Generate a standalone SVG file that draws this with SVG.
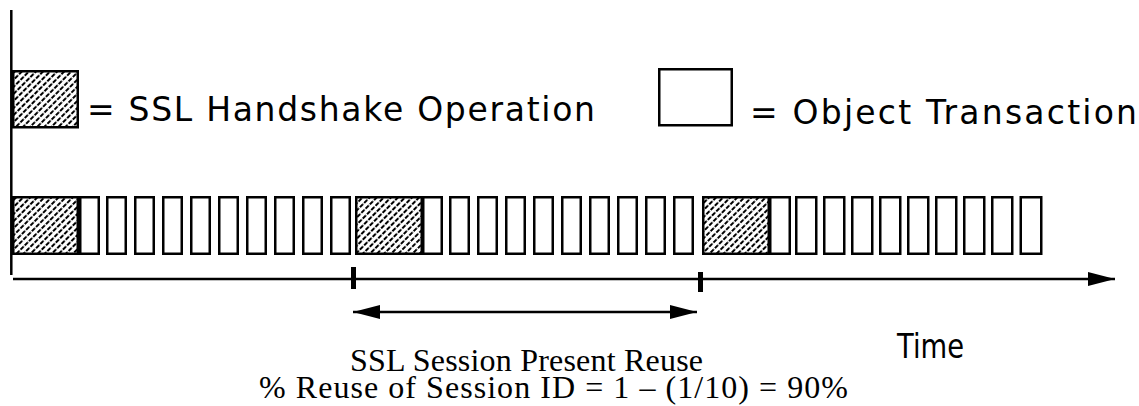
<svg xmlns="http://www.w3.org/2000/svg" width="1139" height="406" viewBox="0 0 1139 406">
  <style>
    .box { fill: #fff; stroke: #000; stroke-width: 2.5; }
    .hs { fill: url(#hatch); stroke: #000; stroke-width: 2.5; }
    .line { stroke: #000; stroke-width: 2.5; fill: none; }
    .sans { font-family: "DejaVu Sans", "Liberation Sans", sans-serif; font-size: 33px; fill: #000; }
    .serif { font-family: "Liberation Serif", "Times New Roman", serif; font-size: 32px; fill: #000; }
  </style>
  <defs>
    <!-- dashed diagonal hatching for handshake blocks; alternate rows staggered -->
    <pattern id="hatch" patternUnits="userSpaceOnUse" width="6" height="10" patternTransform="rotate(-45)">
      <rect width="6" height="10" fill="#fff"/>
      <rect x="0" y="0" width="4.5" height="2" fill="#000"/>
      <rect x="3" y="5" width="4.5" height="2" fill="#000"/>
      <rect x="-3" y="5" width="4.5" height="2" fill="#000"/>
    </pattern>
    <marker id="head" viewBox="0 0 27 14" refX="27" refY="7" markerWidth="27" markerHeight="14" markerUnits="userSpaceOnUse" orient="auto-start-reverse">
      <path d="M0,0 L27,7 L0,14 Z" fill="#000"/>
    </marker>
  </defs>

  <!-- legend -->
  <g id="legend-handshake">
    <rect class="hs" x="13.25" y="71.25" width="64.5" height="56"/>
    <text class="sans" x="87" y="121" textLength="508" lengthAdjust="spacing">= SSL Handshake Operation</text>
  </g>
  <g id="legend-object">
    <rect class="box" x="659.25" y="69.25" width="72.5" height="56"/>
    <text class="sans" x="750" y="124" textLength="387" lengthAdjust="spacing">= Object Transaction</text>
  </g>

  <!-- timeline blocks: handshake followed by ten object transactions -->
  <g id="session-1">
    <rect class="hs" x="13.25" y="197.25" width="64.5" height="56.5"/>
    <rect class="box" x="80.25" y="197.25" width="18.5" height="56.5"/>
    <rect class="box" x="107.25" y="197.25" width="18.5" height="56.5"/>
    <rect class="box" x="135.25" y="197.25" width="18.5" height="56.5"/>
    <rect class="box" x="163.25" y="197.25" width="18.5" height="56.5"/>
    <rect class="box" x="191.25" y="197.25" width="18.5" height="56.5"/>
    <rect class="box" x="219.25" y="197.25" width="18.5" height="56.5"/>
    <rect class="box" x="247.25" y="197.25" width="18.5" height="56.5"/>
    <rect class="box" x="275.25" y="197.25" width="18.5" height="56.5"/>
    <rect class="box" x="303.25" y="197.25" width="18.5" height="56.5"/>
    <rect class="box" x="331.25" y="197.25" width="18.5" height="56.5"/>
  </g>
  <g id="session-2">
    <rect class="hs" x="356.25" y="197.25" width="65.5" height="56.5"/>
    <rect class="box" x="423.25" y="197.25" width="18.5" height="56.5"/>
    <rect class="box" x="450.25" y="197.25" width="18.5" height="56.5"/>
    <rect class="box" x="478.25" y="197.25" width="18.5" height="56.5"/>
    <rect class="box" x="506.25" y="197.25" width="18.5" height="56.5"/>
    <rect class="box" x="534.25" y="197.25" width="18.5" height="56.5"/>
    <rect class="box" x="562.25" y="197.25" width="18.5" height="56.5"/>
    <rect class="box" x="590.25" y="197.25" width="18.5" height="56.5"/>
    <rect class="box" x="618.25" y="197.25" width="18.5" height="56.5"/>
    <rect class="box" x="646.25" y="197.25" width="18.5" height="56.5"/>
    <rect class="box" x="674.25" y="197.25" width="18.5" height="56.5"/>
  </g>
  <g id="session-3">
    <rect class="hs" x="703.25" y="197.25" width="65.5" height="56.5"/>
    <rect class="box" x="770.25" y="197.25" width="19.5" height="56.5"/>
    <rect class="box" x="796.25" y="197.25" width="20" height="56.5"/>
    <rect class="box" x="824.25" y="197.25" width="20" height="56.5"/>
    <rect class="box" x="852.25" y="197.25" width="20" height="56.5"/>
    <rect class="box" x="880.25" y="197.25" width="20" height="56.5"/>
    <rect class="box" x="908.25" y="197.25" width="20" height="56.5"/>
    <rect class="box" x="936.25" y="197.25" width="20" height="56.5"/>
    <rect class="box" x="964.25" y="197.25" width="20" height="56.5"/>
    <rect class="box" x="992.25" y="197.25" width="20" height="56.5"/>
    <rect class="box" x="1020.75" y="197.25" width="20.5" height="56.5"/>
  </g>

  <!-- axes, ticks and reuse interval -->
  <g id="connectors">
    <line class="line" x1="11.3" y1="10" x2="11.3" y2="275"/>
    <line class="line" x1="13" y1="279" x2="1115" y2="279" marker-end="url(#head)"/>
    <rect x="351" y="267" width="5" height="22" fill="#000"/>
    <rect x="698" y="272" width="5" height="20" fill="#000"/>
    <line class="line" x1="353" y1="312" x2="697" y2="312" marker-start="url(#head)" marker-end="url(#head)"/>
  </g>

  <g id="labels">
    <text class="sans" x="897" y="358" font-size="31" textLength="67" lengthAdjust="spacingAndGlyphs">Time</text>
    <text class="serif" x="350" y="371" textLength="353" lengthAdjust="spacing">SSL Session Present Reuse</text>
    <text class="serif" x="259" y="398" textLength="589" lengthAdjust="spacing">% Reuse of Session ID = 1 – (1/10) = 90%</text>
  </g>
</svg>
